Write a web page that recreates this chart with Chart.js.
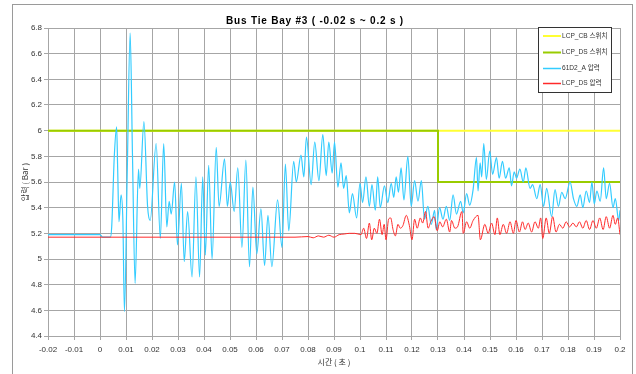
<!DOCTYPE html>
<html>
<head>
<meta charset="utf-8">
<script src="https://cdn.jsdelivr.net/npm/chart.js@4"></script>
<style>
  html, body { margin: 0; padding: 0; background: #fff; }
  #wrap { width: 636px; height: 374px; }
</style>
</head>
<body>
<div id="wrap"><canvas id="busChart" width="636" height="374"></canvas></div>
<script>
// chart data
const seriesNames = ['LCP_CB 스위치', 'LCP_DS 스위치', '61D2_A 압력', 'LCP_DS 압력'];

const xTicks = [-0.02, -0.01, 0, 0.01, 0.02, 0.03, 0.04, 0.05, 0.06, 0.07, 0.08, 0.09,
                0.1, 0.11, 0.12, 0.13, 0.14, 0.15, 0.16, 0.17, 0.18, 0.19, 0.2];
const yTicks = [4.4, 4.6, 4.8, 5, 5.2, 5.4, 5.6, 5.8, 6, 6.2, 6.4, 6.6, 6.8];

// LCP_CB switch
const cbT = [-0.02, 0.2];
const cbV = [6, 6];

// LCP_DS switch
const dsT = [-0.02, 0.13, 0.13, 0.2];
const dsV = [6, 6, 5.6, 5.6];

// 61D2_A pressure
const aT = [-0.02, 0, 0.001, 0.004, 0.0045, 0.0055, 0.0064, 0.0068, 0.0073, 0.0081, 0.0088, 0.0094,
  0.0105, 0.0116, 0.0125, 0.0135, 0.0148, 0.0153, 0.0169, 0.0183, 0.0193, 0.0216, 0.0232, 0.0245,
  0.0257, 0.0266, 0.0274, 0.0287, 0.0298, 0.0313, 0.0324, 0.0337, 0.0354, 0.0369, 0.0383, 0.0395,
  0.0405, 0.0418, 0.0431, 0.0447, 0.0458, 0.0479, 0.049, 0.0501, 0.0516, 0.053, 0.0546, 0.0561,
  0.0575, 0.0588, 0.0603, 0.0619, 0.0633, 0.0646, 0.0661, 0.0683, 0.07, 0.0713, 0.0726, 0.0745,
  0.0755, 0.0773, 0.0784, 0.0794, 0.0812, 0.0826, 0.0842, 0.0857, 0.087, 0.088, 0.0893, 0.0902,
  0.0915, 0.0927, 0.0937, 0.0947, 0.0959, 0.0971, 0.0987, 0.1, 0.101, 0.1023, 0.1036, 0.1046,
  0.1059, 0.1068, 0.1078, 0.1094, 0.1107, 0.112, 0.113, 0.1139, 0.1148, 0.1158, 0.1169, 0.1184,
  0.1197, 0.121, 0.1223, 0.1236, 0.1248, 0.1261, 0.1274, 0.1287, 0.1293, 0.1306, 0.1319, 0.1332,
  0.1345, 0.1358, 0.1371, 0.1387, 0.1397, 0.141, 0.1422, 0.1435, 0.1448, 0.1454, 0.1462, 0.1468,
  0.1476, 0.1486, 0.1499, 0.151, 0.1525, 0.1535, 0.1548, 0.156, 0.1574, 0.1583, 0.1593, 0.1602,
  0.1615, 0.1628, 0.1638, 0.1654, 0.1664, 0.168, 0.1693, 0.1706, 0.1718, 0.1737, 0.175, 0.1763,
  0.1776, 0.1789, 0.1808, 0.1821, 0.1834, 0.1847, 0.1857, 0.187, 0.1883, 0.1892, 0.1901, 0.1911,
  0.1924, 0.1937, 0.1947, 0.196, 0.1973, 0.1982, 0.1995, 0.2];
const aV = [5.19, 5.19, 5.17, 5.17, 5.25, 5.8, 6.03, 5.7, 5.29, 5.5, 5.3, 4.59,
  5.7, 6.76, 5.8, 4.81, 5.7, 5.55, 6.07, 5.41, 5.3, 5.9, 5.16, 5.9,
  5.25, 5.45, 5.35, 5.6, 5.11, 5.59, 4.98, 5.37, 4.86, 5.64, 4.86, 5.64,
  5.03, 5.73, 5.0, 5.87, 5.41, 5.78, 5.41, 5.6, 5.37, 5.71, 5.09, 5.77,
  4.94, 5.56, 5.04, 5.39, 4.95, 5.34, 4.94, 5.46, 5.09, 5.74, 5.22, 5.76,
  5.6, 5.81, 5.64, 5.95, 5.58, 5.91, 5.61, 5.97, 5.65, 5.91, 5.67, 5.91,
  5.56, 5.75, 5.55, 5.65, 5.36, 5.51, 5.32, 5.59, 5.44, 5.64, 5.41, 5.58,
  5.38, 5.64, 5.4, 5.57, 5.44, 5.59, 5.48, 5.64, 5.52, 5.71, 5.46, 5.8,
  5.41, 5.61, 5.45, 5.61, 5.31, 5.41, 5.27, 5.38, 5.23, 5.4, 5.31, 5.41,
  5.3, 5.5, 5.35, 5.45, 5.36, 5.51, 5.42, 5.54, 5.79, 5.53, 5.75, 5.64,
  5.9, 5.62, 5.84, 5.66, 5.79, 5.63, 5.76, 5.63, 5.71, 5.57, 5.68, 5.63,
  5.7, 5.6, 5.71, 5.55, 5.58, 5.47, 5.58, 5.41, 5.55, 5.33, 5.54, 5.41,
  5.52, 5.47, 5.6, 5.47, 5.41, 5.5, 5.4, 5.53, 5.44, 5.6, 5.43, 5.53,
  5.45, 5.71, 5.47, 5.59, 5.4, 5.47, 5.3, 5.38];

// LCP_DS pressure
const bT = [-0.02, 0, 0.02, 0.04, 0.06, 0.075, 0.08, 0.082, 0.084, 0.086, 0.088, 0.09, 0.092, 0.094,
  0.0959, 0.098, 0.1004, 0.1014, 0.1025, 0.1036, 0.1045, 0.1055, 0.1065, 0.1075, 0.1085, 0.1093,
  0.11, 0.111, 0.1118, 0.1127, 0.1136, 0.1146, 0.1155, 0.1165, 0.1178, 0.119, 0.12, 0.121, 0.122,
  0.1232, 0.1241, 0.1252, 0.1262, 0.1272, 0.1285, 0.1297, 0.1307, 0.1318, 0.1332, 0.1345, 0.1352,
  0.1365, 0.1375, 0.1392, 0.1397, 0.141, 0.1422, 0.1435, 0.1454, 0.1463, 0.148, 0.1493, 0.1506,
  0.1519, 0.1528, 0.1538, 0.1551, 0.1564, 0.1577, 0.159, 0.16, 0.1613, 0.1625, 0.1635, 0.1647,
  0.166, 0.1673, 0.1686, 0.1695, 0.1703, 0.1716, 0.1728, 0.1741, 0.1754, 0.1767, 0.178, 0.1793,
  0.1806, 0.1819, 0.1832, 0.1844, 0.1857, 0.187, 0.1883, 0.1896, 0.1909, 0.1922, 0.1935, 0.1947,
  0.196, 0.1973, 0.1982, 0.1991, 0.2];
const bV = [5.17, 5.17, 5.17, 5.17, 5.17, 5.17, 5.175, 5.165, 5.18, 5.17, 5.185, 5.17, 5.19, 5.195,
  5.2, 5.2, 5.19, 5.24, 5.16, 5.28, 5.15, 5.24, 5.2, 5.31, 5.19, 5.27,
  5.15, 5.31, 5.32, 5.23, 5.18, 5.27, 5.24, 5.26, 5.34, 5.26, 5.15, 5.31, 5.24,
  5.32, 5.28, 5.37, 5.24, 5.29, 5.33, 5.22, 5.29, 5.25, 5.31, 5.21, 5.3,
  5.24, 5.25, 5.37, 5.2, 5.29, 5.24, 5.3, 5.34, 5.15, 5.27, 5.2, 5.28,
  5.19, 5.32, 5.19, 5.27, 5.2, 5.29, 5.2, 5.3, 5.21, 5.29, 5.23, 5.28,
  5.21, 5.29, 5.24, 5.32, 5.16, 5.32, 5.2, 5.33, 5.21, 5.27, 5.24, 5.29,
  5.25, 5.28, 5.25, 5.29, 5.24, 5.3, 5.23, 5.3, 5.24, 5.32, 5.23, 5.33,
  5.24, 5.34, 5.27, 5.32, 5.19];

function pts(ts, vs) {
    return ts.map(function(t, i) { return { x: t, y: vs[i] }; });
}

const lineColors = ['#ffff33', '#99cc00', '#33ccff', '#ff2a2a'];
const lineWidths = [2, 2, 1.2, 1];

// title, frame and legend box
const decorPlugin = {
    id: 'decor',
    beforeDraw: function(chart) {
        const c = chart.ctx;
        c.save();
        c.fillStyle = '#ffffff';
        c.fillRect(0, 0, chart.width, chart.height);
        c.strokeStyle = '#9a9a9a';
        c.lineWidth = 1;
        c.strokeRect(12.5, 4.5, 620, 372);
        c.restore();
    },
    afterDraw: function(chart) {
        const c = chart.ctx;
        c.save();
        c.fillStyle = '#000';
        c.font = 'bold 10px "Liberation Sans", Arial, sans-serif';
        c.letterSpacing = '0.8px';
        c.textAlign = 'center';
        c.textBaseline = 'middle';
        c.fillText('Bus Tie Bay #3 ( -0.02 s ~ 0.2 s )', 315, 21);
        c.letterSpacing = '0px';

        // legend
        const bx = 538.5, by = 27.5, bw = 73, bh = 65;
        c.fillStyle = '#fff';
        c.fillRect(bx, by, bw, bh);
        c.strokeStyle = '#333';
        c.lineWidth = 1;
        c.strokeRect(bx, by, bw, bh);
        const rows = [36, 52.5, 68.5, 83.5];
        c.font = '6.6px "Liberation Sans", "Noto Sans CJK KR", sans-serif';
        c.textAlign = 'left';
        for (let i = 0; i < seriesNames.length; i++) {
            c.strokeStyle = lineColors[i];
            c.lineWidth = i < 2 ? 2 : 1.5;
            c.beginPath();
            c.moveTo(543, rows[i]);
            c.lineTo(561, rows[i]);
            c.stroke();
            c.fillStyle = '#333';
            c.fillText(seriesNames[i], 562, rows[i]);
        }
        c.restore();
    }
};

const ctx = document.getElementById('busChart');

new Chart(ctx, {
    type: 'line',
    data: {
        datasets: [
            { label: seriesNames[0], data: pts(cbT, cbV), borderColor: lineColors[0], borderWidth: lineWidths[0], order: 4 },
            { label: seriesNames[1], data: pts(dsT, dsV), borderColor: lineColors[1], borderWidth: lineWidths[1], order: 3 },
            { label: seriesNames[2], data: pts(aT, aV), borderColor: lineColors[2], borderWidth: lineWidths[2], order: 2,
              cubicInterpolationMode: 'monotone' },
            { label: seriesNames[3], data: pts(bT, bV), borderColor: lineColors[3], borderWidth: lineWidths[3], order: 1,
              cubicInterpolationMode: 'monotone' }
        ]
    },
    options: {
        responsive: false,
        animation: false,
        events: [],
        elements: {
            point: { radius: 0 },
            line: { tension: 0, fill: false }
        },
        layout: {
            padding: { left: 15, right: 16, top: 28, bottom: 2 }
        },
        scales: {
            x: {
                type: 'linear',
                min: -0.02,
                max: 0.2,
                afterBuildTicks: function(axis) {
                    axis.ticks = xTicks.map(function(v) { return { value: v }; });
                },
                afterFit: function(axis) { axis.height = 36; },
                grid: { color: '#a6a6a6', tickLength: 4, lineWidth: 1 },
                border: { color: '#a6a6a6' },
                ticks: {
                    autoSkip: false,
                    maxRotation: 0,
                    padding: 5,
                    color: '#333',
                    font: { family: '"Liberation Sans", Arial, sans-serif', size: 8 },
                    callback: function(value) {
                        return String(Number(value.toFixed(2)));
                    }
                },
                title: {
                    display: true,
                    text: '시간 ( 초 )',
                    color: '#333',
                    padding: { top: 0, bottom: 5 },
                    font: { family: '"Noto Sans CJK KR", sans-serif', size: 8 }
                }
            },
            y: {
                min: 4.4,
                max: 6.8,
                afterBuildTicks: function(axis) {
                    axis.ticks = yTicks.map(function(v) { return { value: v }; });
                },
                afterFit: function(axis) { axis.width = 33; },
                grid: { color: '#a6a6a6', tickLength: 4, lineWidth: 1 },
                border: { color: '#a6a6a6' },
                ticks: {
                    padding: 2,
                    color: '#333',
                    font: { family: '"Liberation Sans", Arial, sans-serif', size: 8 },
                    callback: function(value) {
                        return String(Number(value.toFixed(1)));
                    }
                },
                title: {
                    display: true,
                    text: '압력 ( Bar )',
                    color: '#333',
                    padding: { top: 5, bottom: 0 },
                    font: { family: '"Noto Sans CJK KR", sans-serif', size: 8 }
                }
            }
        },
        plugins: {
            legend: { display: false },
            title: { display: false },
            tooltip: { enabled: false }
        }
    },
    plugins: [decorPlugin]
});
</script>
</body>
</html>
